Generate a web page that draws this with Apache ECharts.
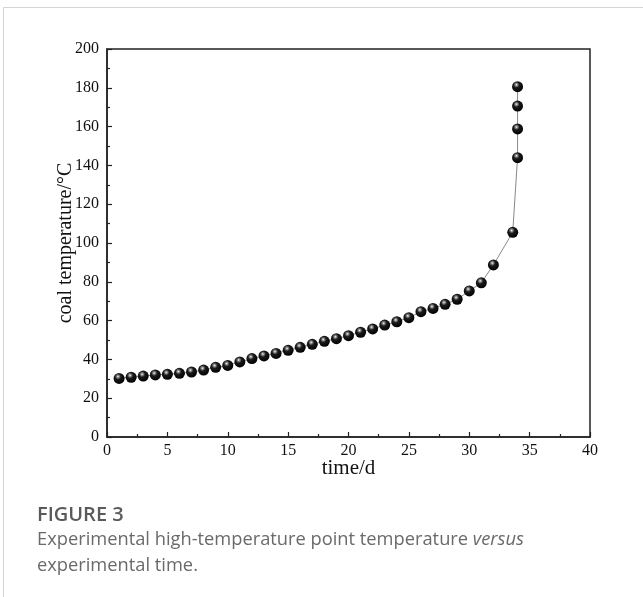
<!DOCTYPE html>
<html>
<head>
<meta charset="utf-8">
<script src="https://cdn.jsdelivr.net/npm/echarts@6/dist/echarts.min.js"></script>
<style>
  html, body { margin: 0; padding: 0; background: #fff; }
  #chart { width: 643px; height: 597px; }
</style>
</head>
<body>
<div id="chart"></div>
<script>
// Time (days) and measured coal temperature at the high-temperature point
const timeDays = [1, 2, 3, 4, 5, 6, 7, 8, 9, 10, 11, 12, 13, 14, 15, 16, 17, 18, 19, 20,
  21, 22, 23, 24, 25, 26, 27, 28, 29, 30, 31, 32, 33.6, 34, 34, 34, 34];
const coalTemp = [30.2, 30.8, 31.4, 32, 32.3, 32.8, 33.5, 34.5, 35.9, 36.9, 38.7, 40.4, 41.8, 43.1, 44.7,
  46.2, 47.8, 49.3, 50.7, 52.2, 54, 55.7, 57.7, 59.4, 61.5, 64.6, 66.3, 68.4, 71, 75.3,
  79.5, 88.7, 105.5, 144, 158.8, 170.6, 180.6];

const xTicks = { min: 0, max: 40, interval: 5 };
const yTicks = { min: 0, max: 200, interval: 20 };

const xAxisName = 'time/d';
const yAxisName = 'coal temperature/\u00B0C';
const figureLabel = 'FIGURE 3';
const captionLine1 = 'Experimental high-temperature point temperature ';
const captionItalic = 'versus';
const captionLine2 = 'experimental time.';

const points = timeDays.map((t, i) => [t, coalTemp[i]]);

const serif = 'Liberation Serif';
const axisColor = '#222';
const captionFont = '18.3px "Open Sans"';

// width of the upright part of the first caption line, so the italic word follows it
const measureCtx = document.createElement('canvas').getContext('2d');
measureCtx.font = captionFont;
const line1Width = measureCtx.measureText(captionLine1).width;

const chart = echarts.init(document.getElementById('chart'), null, { renderer: 'canvas' });

chart.setOption({
  animation: false,
  backgroundColor: '#fff',
  grid: {
    left: 107, right: 53, top: 49, bottom: 160,
    show: true, borderColor: axisColor, borderWidth: 1.5
  },
  xAxis: {
    type: 'value',
    min: xTicks.min, max: xTicks.max, interval: xTicks.interval,
    name: xAxisName, nameLocation: 'middle', nameGap: 21, nameMoveOverlap: false,
    nameTextStyle: { fontFamily: serif, fontSize: 21, color: '#111' },
    axisLine: { show: true, lineStyle: { color: axisColor, width: 1.5 } },
    axisTick: { show: true, inside: true, length: 5, lineStyle: { color: axisColor, width: 1.2 } },
    minorTick: { show: true, splitNumber: 2, length: 3, lineStyle: { color: axisColor, width: 1.2 } },
    splitLine: { show: false },
    axisLabel: { fontFamily: serif, fontSize: 16, color: '#111', margin: 6 }
  },
  yAxis: {
    type: 'value',
    min: yTicks.min, max: yTicks.max, interval: yTicks.interval,
    name: yAxisName, nameLocation: 'middle', nameGap: 31, nameMoveOverlap: false,
    nameTextStyle: { fontFamily: serif, fontSize: 20, color: '#111' },
    axisLine: { show: true, lineStyle: { color: axisColor, width: 1.5 } },
    axisTick: { show: true, inside: true, length: 5, lineStyle: { color: axisColor, width: 1.2 } },
    minorTick: { show: true, splitNumber: 2, length: 3, lineStyle: { color: axisColor, width: 1.2 } },
    splitLine: { show: false },
    axisLabel: { fontFamily: serif, fontSize: 16, color: '#111', margin: 8 }
  },
  series: [{
    type: 'line',
    data: points,
    symbol: 'circle',
    symbolSize: 11,
    lineStyle: { color: '#8a8a8a', width: 1 },
    itemStyle: {
      color: {
        type: 'radial', x: 0.4, y: 0.33, r: 0.7,
        colorStops: [
          { offset: 0, color: '#ffffff' },
          { offset: 0.12, color: '#a0a0a0' },
          { offset: 0.38, color: '#1a1a1a' },
          { offset: 1, color: '#000000' }
        ]
      },
      borderWidth: 0
    },
    z: 3
  }],
  graphic: [
    // page frame: top and left rules
    { type: 'line', shape: { x1: 3.5, y1: 7.5, x2: 643, y2: 7.5 }, style: { stroke: '#d4d4d4', lineWidth: 1 } },
    { type: 'line', shape: { x1: 3.5, y1: 7.5, x2: 3.5, y2: 597 }, style: { stroke: '#d4d4d4', lineWidth: 1 } },
    {
      type: 'text', x: 37, y: 505,
      style: { text: figureLabel, font: '600 20px "Open Sans"', fill: '#5a5a5a' }
    },
    {
      type: 'text', x: 37, y: 531,
      style: { text: captionLine1, font: captionFont, fill: '#6a6a6a' }
    },
    {
      type: 'text', x: 37 + line1Width, y: 531,
      style: { text: captionItalic, font: 'italic ' + captionFont, fill: '#6a6a6a' }
    },
    {
      type: 'text', x: 37, y: 557,
      style: { text: captionLine2, font: captionFont, fill: '#6a6a6a' }
    }
  ]
});
</script>
</body>
</html>
